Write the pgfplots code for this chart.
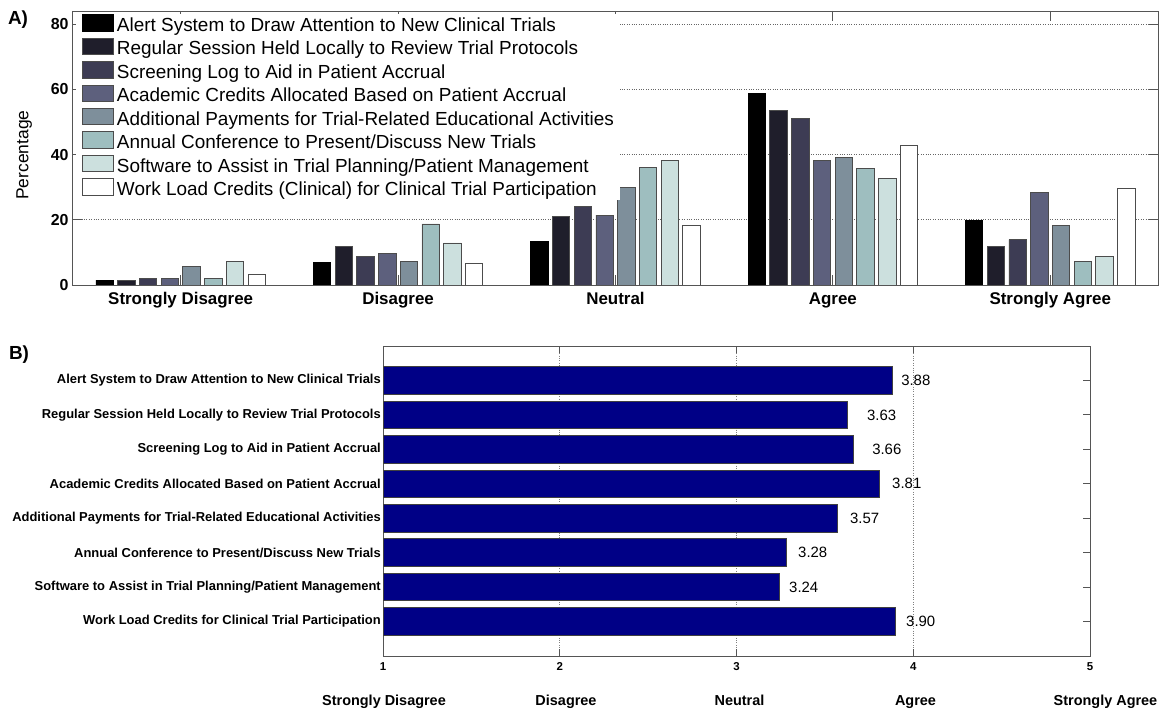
\documentclass[border=0pt]{standalone}
\usepackage{pgfplots}
\pgfplotsset{compat=1.18}
\usepackage{fontspec}
\setmainfont{Liberation Sans}

\definecolor{c1}{HTML}{000000}
\definecolor{c2}{HTML}{1F1E2B}
\definecolor{c3}{HTML}{3D3C54}
\definecolor{c4}{HTML}{5D607D}
\definecolor{c5}{HTML}{7E8F9B}
\definecolor{c6}{HTML}{9EBEBF}
\definecolor{c7}{HTML}{CCE0DE}
\definecolor{c8}{HTML}{FFFFFF}
\definecolor{navybar}{HTML}{000086}
\definecolor{framegray}{HTML}{555555}

\newcommand\tickA{\bfseries\fontsize{17}{20}\selectfont}
\newcommand\numA{\bfseries\fontsize{16}{19}\selectfont}
\newcommand\legA{\fontsize{19}{22}\selectfont}
\newcommand\labA{\fontsize{17.5}{21}\selectfont}
\newcommand\tickB{\bfseries\fontsize{13}{15}\selectfont}
\newcommand\numB{\bfseries\fontsize{11.5}{14}\selectfont}
\newcommand\valB{\fontsize{15}{18}\selectfont}
\newcommand\catB{\bfseries\fontsize{14.5}{17}\selectfont}
\newcommand\panel{\bfseries\fontsize{19}{22}\selectfont}

\begin{document}
\begin{tikzpicture}
\useasboundingbox (0,0) rectangle (1163bp,709bp);
\fill[white] (0,0) rectangle (1163bp,709bp);

% ---------------- Panel A ----------------
\begin{axis}[
  name=axA,
  at={(72bp,424bp)}, anchor=south west,
  scale only axis, width=1087bp, height=274bp,
  xmin=0.5, xmax=5.5, ymin=0, ymax=84,
  ybar, bar width=0.08,
  xtick={1,2,3,4,5},
  xticklabels={Strongly Disagree, Disagree, Neutral, Agree, Strongly Agree},
  ytick={0,20,40,60,80},
  ymajorgrids, grid style={dotted, black!60, line width=0.6bp},
  tick align=inside, major tick length=10bp,
  major tick style={framegray, line width=0.8bp},
  axis line style={framegray, line width=0.9bp},
  every axis plot/.append style={draw=black!70, line width=0.8bp},
  xticklabel style={font=\tickA, yshift=-4bp},
  yticklabel style={font=\numA},
  /pgf/number format/assume math mode=true,
  ylabel={Percentage},
  ylabel style={font=\labA, at={(axis description cs:-0.044,0.474)}, anchor=center},
  legend cell align=left,
  legend image code/.code={\draw[#1] (0bp,-6bp) rectangle (31bp,10.5bp);},
  legend style={at={(0,1)}, anchor=north west, xshift=4bp, yshift=-2.5bp,
    draw=none, fill=white, inner xsep=6bp, inner ysep=0.5bp,
    row sep=2.3bp, font=\legA,
    nodes={inner sep=0pt, text height=16.5bp, text depth=4bp},
    /tikz/every odd column/.append style={column sep=3bp}},
]
\addplot[fill=c1, draw=black, bar shift=-0.35] coordinates {(1,1.5) (2,6.9) (3,13.3) (4,58.6) (5,19.9)};
\addplot[fill=c2, bar shift=-0.25] coordinates {(1,1.5) (2,11.9) (3,21.0) (4,53.5) (5,11.8)};
\addplot[fill=c3, bar shift=-0.15] coordinates {(1,2.0) (2,8.8) (3,24.0) (4,51.1) (5,13.9)};
\addplot[fill=c4, bar shift=-0.05] coordinates {(1,2.0) (2,9.8) (3,21.4) (4,38.2) (5,28.4)};
\addplot[fill=c5, bar shift=0.05] coordinates {(1,5.6) (2,7.3) (3,29.8) (4,39.2) (5,18.2)};
\addplot[fill=c6, bar shift=0.15] coordinates {(1,2.0) (2,18.7) (3,36.0) (4,35.6) (5,7.3)};
\addplot[fill=c7, bar shift=0.25] coordinates {(1,7.1) (2,12.9) (3,38.2) (4,32.8) (5,8.8)};
\addplot[fill=c8, bar shift=0.35] coordinates {(1,3.1) (2,6.5) (3,18.2) (4,42.8) (5,29.5)};
\legend{Alert System to Draw Attention to New Clinical Trials,
        Regular Session Held Locally to Review Trial Protocols,
        Screening Log to Aid in Patient Accrual,
        Academic Credits Allocated Based on Patient Accrual,
        Additional Payments for Trial-Related Educational Activities,
        Annual Conference to Present/Discuss New Trials,
        Software to Assist in Trial Planning/Patient Management,
        Work Load Credits (Clinical) for Clinical Trial Participation}
\end{axis}
% redraw the frame of panel A above the legend box
\draw[framegray, line width=0.9bp] (axA.north west) -- (axA.north east);
\draw[framegray, line width=0.9bp] (axA.north west) -- (axA.south west);

% ---------------- Panel B ----------------
\begin{axis}[
  at={(383bp,53bp)}, anchor=south west,
  scale only axis, width=707bp, height=310bp,
  xmin=1, xmax=5, ymin=0, ymax=9, y dir=reverse,
  xbar, bar width=0.8,
  ytick={1,2,3,4,5,6,7,8},
  yticklabels={Alert System to Draw Attention to New Clinical Trials,
    Regular Session Held Locally to Review Trial Protocols,
    Screening Log to Aid in Patient Accrual,
    Academic Credits Allocated Based on Patient Accrual,
    Additional Payments for Trial-Related Educational Activities,
    Annual Conference to Present/Discuss New Trials,
    Software to Assist in Trial Planning/Patient Management,
    Work Load Credits for Clinical Trial Participation},
  xtick={1,2,3,4,5},
  xmajorgrids, grid style={dotted, black!50, line width=0.6bp},
  tick align=inside, major tick length=7bp,
  major tick style={framegray, line width=0.8bp},
  axis line style={framegray, line width=0.9bp},
  yticklabel style={font=\tickB, inner xsep=2bp},
  xticklabel style={font=\numB, yshift=-3bp},
  /pgf/number format/assume math mode=true,
]
\addplot[fill=navybar, draw=black!75, line width=0.8bp] coordinates {
  (3.88,1) (3.63,2) (3.66,3) (3.81,4) (3.57,5) (3.28,6) (3.24,7) (3.90,8)};
\node[anchor=west, font=\valB, inner sep=0pt] at (axis cs:3.931,1) {3.88};
\node[anchor=west, font=\valB, inner sep=0pt] at (axis cs:3.738,2) {3.63};
\node[anchor=west, font=\valB, inner sep=0pt] at (axis cs:3.767,3) {3.66};
\node[anchor=west, font=\valB, inner sep=0pt] at (axis cs:3.880,4) {3.81};
\node[anchor=west, font=\valB, inner sep=0pt] at (axis cs:3.642,5) {3.57};
\node[anchor=west, font=\valB, inner sep=0pt] at (axis cs:3.348,6) {3.28};
\node[anchor=west, font=\valB, inner sep=0pt] at (axis cs:3.297,7) {3.24};
\node[anchor=west, font=\valB, inner sep=0pt] at (axis cs:3.959,8) {3.90};
\end{axis}

\node[font=\catB, anchor=base] at (384bp,4bp) {Strongly Disagree};
\node[font=\catB, anchor=base] at (566bp,4bp) {Disagree};
\node[font=\catB, anchor=base] at (739.5bp,4bp) {Neutral};
\node[font=\catB, anchor=base] at (915.5bp,4bp) {Agree};
\node[font=\catB, anchor=base] at (1105.5bp,4bp) {Strongly Agree};

\node[font=\panel] at (18bp,689.5bp) {A)};
\node[font=\panel] at (19bp,354.5bp) {B)};
\end{tikzpicture}
\end{document}
